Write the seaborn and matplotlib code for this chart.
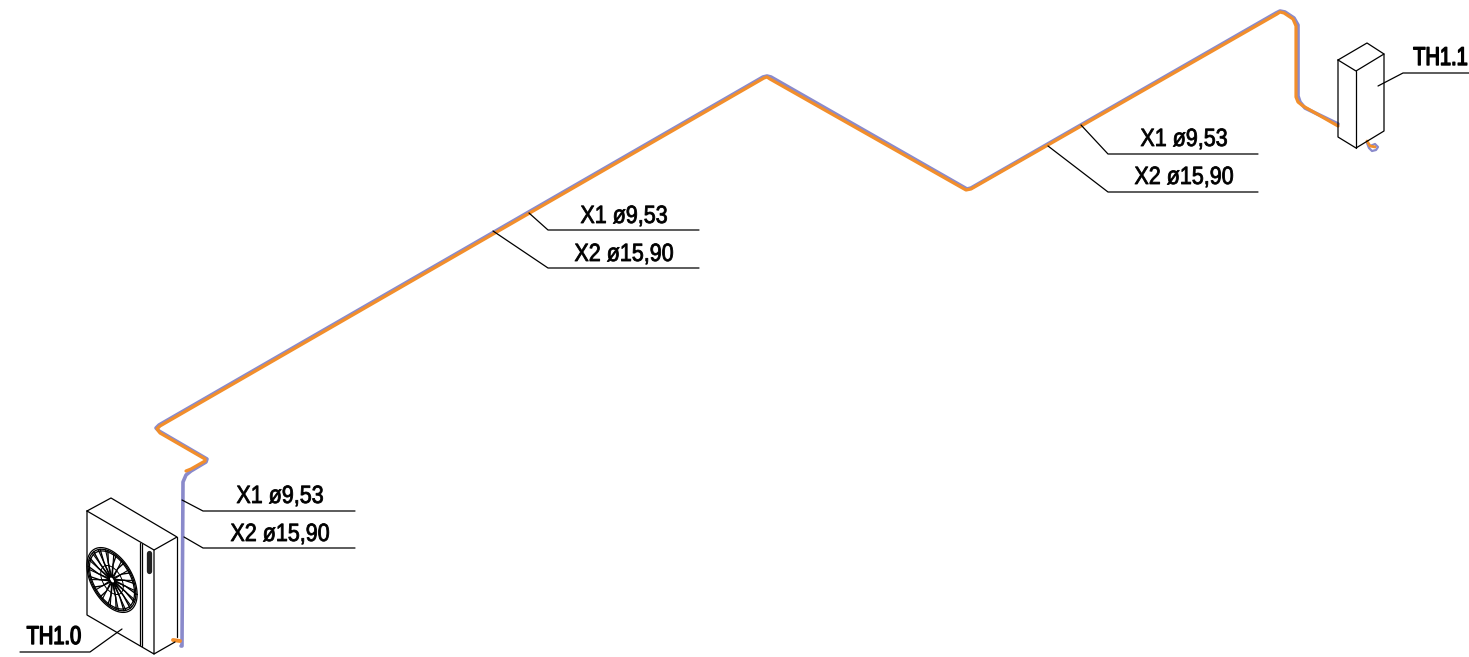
import numpy as np
import seaborn as sns
import matplotlib.pyplot as plt
from matplotlib.patheffects import AbstractPathEffect
from matplotlib.transforms import Affine2D

sns.set_style("white")
plt.rcParams['font.family'] = ['Liberation Sans', 'DejaVu Sans']

# pipe routes (pixel positions of the drawing)
blue_x = [181, 182, 183, 186, 191, 206, 207, 159, 156, 159, 763, 767, 771, 967, 971, 1276, 1280, 1285, 1294, 1298, 1298, 1300, 1305, 1338]
blue_y = [646, 646, 482, 475, 471, 462, 459, 431, 428, 425, 77, 76, 77, 189, 188, 13, 11, 12, 18, 25, 96, 102, 108, 124]
orange_x = [186, 191, 205, 205, 160, 157, 160, 764, 767, 770, 966, 971, 1277, 1280, 1284, 1293, 1296, 1296, 1298, 1303, 1338]
orange_y = [471, 469, 461, 459, 433, 429, 426, 78, 77, 79, 190, 189, 14, 12, 13, 19, 26, 97, 102, 106, 126]
stub_x = [173, 180]
stub_y = [640, 641]
tail_blue_x = [1367, 1369, 1372, 1376, 1378, 1375, 1370, 1369]
tail_blue_y = [143, 148, 151, 150, 147, 144, 146, 147]
tail_orange_x = [1367, 1370, 1375]
tail_orange_y = [141, 146, 147]

# outdoor unit outline
unit_segments = [
    ([87, 111, 177, 154, 87], [511, 498, 537, 550, 511]),
    ([87, 87, 154, 154], [511, 615, 654, 550]),
    ([154, 175], [654, 642]),
    ([177, 177], [537, 637]),
    ([140, 140], [543, 645]),
    ([142, 142], [544, 646]),
]
grille_x = [149, 149]
grille_y = [553, 571]
fan_radii = [29, 27.5, 26, 13, 3]
blade_angles = [0, 20, 40, 60, 80, 100, 120, 140, 160, 180, 200, 220, 240, 260, 280, 300, 320, 340]
fan_centre = (112, 580)

# indoor unit outline
indoor_segments = [
    ([1338, 1367, 1384, 1356, 1338], [60, 43, 54, 71, 60]),
    ([1338, 1338, 1356, 1384, 1384], [60, 137, 148, 131, 54]),
    ([1356, 1356], [71, 148]),
]

# leaders: (x points, y points)
leaders = [
    ([529, 548, 699], [213, 230, 230]),
    ([493, 548, 699], [231, 268, 268]),
    ([182, 203, 355], [500, 511, 511]),
    ([184, 203, 355], [537, 548, 548]),
    ([1081, 1108, 1258], [125, 154, 154]),
    ([1048, 1108, 1258], [146, 192, 192]),
    ([122, 90, 20], [629, 652, 652]),
    ([1378, 1403, 1469], [86, 73, 73]),
]
label_text = ['X1 ø9,53', 'X2 ø15,90', 'X1 ø9,53', 'X2 ø15,90', 'X1 ø9,53', 'X2 ø15,90', 'TH1.0', 'TH1.1']
label_x = [624, 624, 280, 280, 1184, 1184, 54, 1468]
label_y = [223, 261, 503, 541, 146, 184, 644, 65]
label_ha = ['center', 'center', 'center', 'center', 'center', 'center', 'center', 'right']

BLUE = '#8a8acb'
ORANGE = '#f28e2b'


class Narrow(AbstractPathEffect):
    # the drawing's lettering is a narrow CAD font, no narrow family is installed
    def __init__(self, anchor_x, sx, stroke):
        super().__init__()
        self.anchor_x = anchor_x
        self.sx = sx
        self.stroke = stroke

    def draw_path(self, renderer, gc, tpath, affine, rgbFace=None):
        squeeze = Affine2D().translate(-self.anchor_x, 0).scale(self.sx, 1).translate(self.anchor_x, 0)
        gc0 = renderer.new_gc()
        gc0.copy_properties(gc)
        gc0.set_linewidth(self.stroke)
        gc0.set_foreground('black')
        renderer.draw_path(gc0, tpath, affine + squeeze, rgbFace)
        gc0.restore()


def draw(ax, xs, ys, color='black', lw=0.9):
    sns.lineplot(x=xs, y=ys, sort=False, estimator=None, color=color,
                 linewidth=lw, ax=ax, legend=False)


def fan_point(r, t):
    # circle lying on the isometric front face
    cx, cy = fan_centre
    return (cx + 0.866 * r * np.cos(t), cy + 0.5 * r * np.cos(t) + r * np.sin(t))


fig = plt.figure(figsize=(14.69, 6.57), dpi=100)
ax = fig.add_axes([0, 0, 1, 1])

# pipes
draw(ax, blue_x, blue_y, BLUE, 2.6)
draw(ax, tail_blue_x, tail_blue_y, BLUE, 1.6)
draw(ax, orange_x, orange_y, ORANGE, 2.3)
draw(ax, stub_x, stub_y, ORANGE, 2.8)
draw(ax, tail_orange_x, tail_orange_y, ORANGE, 2.0)

# outdoor unit
for xs, ys in unit_segments:
    draw(ax, xs, ys)
draw(ax, grille_x, grille_y, '#222222', 3.8)

# fan
theta = np.linspace(0, 2 * np.pi, 90)
for r in fan_radii:
    px, py = fan_point(r, theta)
    draw(ax, px, py, lw=0.9 if r > 20 else 0.7)
for a in blade_angles:
    t = np.radians(a)
    ax_x, ax_y = fan_point(np.array([3, 16, 27.5]), np.array([t, t + 0.25, t + 0.35]))
    draw(ax, ax_x, ax_y, lw=1.0)
    ax_x, ax_y = fan_point(np.array([3, 16, 27.5]), np.array([t, t - 0.1, t - 0.1]))
    draw(ax, ax_x, ax_y, lw=0.8)

# indoor unit
for xs, ys in indoor_segments:
    draw(ax, xs, ys)

ax.set_xlim(0, 1469)
ax.set_ylim(657, 0)
ax.axis('off')
fig.patch.set_facecolor('white')

# leaders and labels
for xs, ys in leaders:
    draw(ax, xs, ys)
for txt, x, y, ha in zip(label_text, label_x, label_y, label_ha):
    is_tag = txt.startswith('TH')
    effect = Narrow(ax.transData.transform((x, y))[0], 0.78 if is_tag else 0.86, 1.0 if is_tag else 0.6)
    ax.text(x, y, txt, ha=ha, va='baseline', fontsize=18.5 if is_tag else 18, color='black',
            path_effects=[effect])

ax.set_xlim(0, 1469)
ax.set_ylim(657, 0)

fig.savefig('out.png', dpi=100, facecolor='white')
